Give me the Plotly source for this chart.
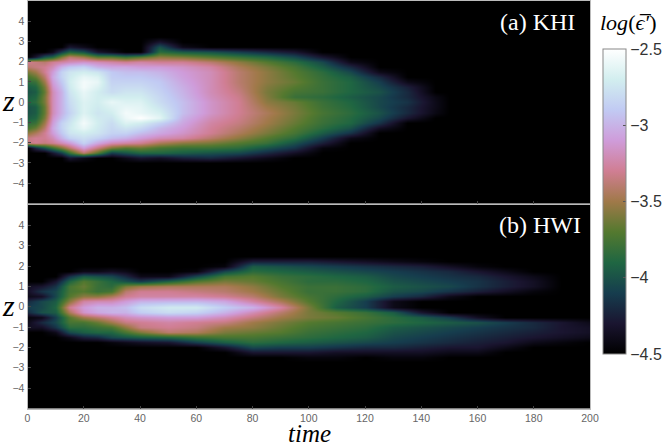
import plotly.graph_objects as go
import numpy as np

B = -4.5  # floor of the colour range, black

# cubehelix, as on the colour bar
colors = ["#000000", "#1a1530", "#163d4e", "#1f6642", "#54792f", "#a07949",
          "#d07e93", "#cf9cda", "#c1caf3", "#d2eeef", "#ffffff"]
bar_ticks = [-4.5, -4, -3.5, -3, -2.5]
bar_labels = ["\u22124.5", "\u22124", "\u22123.5", "\u22123", "\u22122.5"]
z_ticks = [-4, -3, -2, -1, 0, 1, 2, 3, 4]
time_ticks = [0, 20, 40, 60, 80, 100, 120, 140, 160, 180, 200]

# (a) KHI, one profile per time, listed from top z to bottom z
khi_z = [3.25, 3, 2.75, 2.5, 2.25, 2, 1.75, 1.5, 1.25, 1, 0.75, 0.5, 0.25, 0,
         -0.25, -0.5, -0.75, -1, -1.25, -1.5, -1.75, -2, -2.25, -2.5, -2.75, -3, -3.25]
khi_time = [0, 3, 6, 9, 12, 15, 20, 25, 30, 35, 40, 47, 55, 65, 75, 85, 95, 105, 115, 125, 135, 145, 150, 200]
khi_profiles = [
    [B, B, B, B, B, -3.3, -3.4, -3.6, -3.75, -3.85, -3.95, -4.0, -3.95, -3.9, -4.0, -4.0, -3.95, -3.85, -3.75, -3.55, -3.35, -3.35, B, B, B, B, B],
    [B, B, B, B, -4.3, -3.35, -3.35, -3.5, -3.65, -3.8, -3.9, -3.95, -3.9, -3.85, -3.95, -3.95, -3.9, -3.8, -3.65, -3.45, -3.3, -3.3, -4.2, B, B, B, B],
    [B, B, B, B, -4.0, -3.4, -3.3, -3.3, -3.4, -3.5, -3.6, -3.65, -3.6, -3.6, -3.65, -3.65, -3.6, -3.5, -3.4, -3.3, -3.3, -3.35, -4.0, -4.5, B, B, B],
    [B, B, B, -4.4, -3.9, -3.3, -3.2, -3.1, -3.05, -3.1, -3.15, -3.2, -3.2, -3.2, -3.2, -3.2, -3.15, -3.1, -3.05, -3.1, -3.2, -3.3, -3.8, -4.3, B, B, B],
    [B, B, B, -4.1, -3.6, -3.25, -3.0, -2.85, -2.85, -2.9, -2.95, -3.0, -3.0, -3.0, -3.0, -3.0, -2.95, -2.85, -2.85, -2.9, -3.0, -3.2, -3.6, -4.1, B, B, B],
    [B, B, -4.3, -3.9, -3.4, -3.2, -2.9, -2.75, -2.72, -2.7, -2.72, -2.75, -2.78, -2.8, -2.82, -2.85, -2.8, -2.75, -2.72, -2.75, -2.85, -3.1, -3.4, -3.8, -4.3, B, B],
    [B, B, -4.4, -4.0, -3.5, -3.15, -2.85, -2.7, -2.6, -2.55, -2.55, -2.6, -2.62, -2.65, -2.65, -2.65, -2.6, -2.55, -2.6, -2.7, -2.78, -2.85, -3.1, -3.4, -4.4, B, B],
    [B, B, B, -4.3, -3.7, -3.2, -3.0, -2.75, -2.65, -2.6, -2.65, -2.7, -2.7, -2.7, -2.72, -2.75, -2.72, -2.7, -2.72, -2.75, -2.85, -3.05, -3.35, -3.7, B, B, B],
    [B, B, B, -4.4, -3.7, -3.25, -3.05, -2.9, -2.88, -2.85, -2.82, -2.8, -2.7, -2.6, -2.65, -2.7, -2.75, -2.8, -2.82, -2.85, -2.95, -3.2, -3.6, -4.1, B, B, B],
    [B, B, B, B, -3.8, -3.3, -3.05, -2.95, -2.9, -2.85, -2.8, -2.75, -2.7, -2.65, -2.6, -2.55, -2.58, -2.65, -2.75, -2.85, -3.0, -3.25, -3.7, -4.0, -4.4, B, B],
    [B, B, B, B, -3.7, -3.25, -3.1, -2.95, -2.9, -2.85, -2.8, -2.75, -2.7, -2.65, -2.62, -2.6, -2.5, -2.7, -2.82, -2.95, -3.1, -3.3, -3.65, -3.9, -4.3, B, B],
    [B, -4.3, -4.0, -3.85, -3.55, -3.3, -3.1, -3.0, -2.95, -2.9, -2.88, -2.85, -2.82, -2.8, -2.75, -2.68, -2.62, -2.85, -2.98, -3.05, -3.2, -3.45, -3.75, -3.9, -4.35, B, B],
    [B, B, -4.4, -3.95, -3.6, -3.3, -3.15, -3.1, -3.08, -3.05, -3.02, -3.0, -2.98, -2.95, -2.95, -2.95, -3.0, -3.05, -3.1, -3.15, -3.25, -3.55, -3.8, -3.95, -4.25, B, B],
    [B, B, B, -4.0, -3.7, -3.4, -3.25, -3.2, -3.2, -3.2, -3.2, -3.2, -3.18, -3.15, -3.15, -3.15, -3.2, -3.25, -3.28, -3.3, -3.4, -3.6, -3.8, -4.0, -4.2, B, B],
    [B, B, B, -4.1, -3.8, -3.55, -3.45, -3.4, -3.4, -3.4, -3.38, -3.35, -3.32, -3.3, -3.3, -3.3, -3.32, -3.35, -3.4, -3.45, -3.55, -3.7, -3.85, -4.05, -4.3, B, B],
    [B, B, B, -4.2, -3.9, -3.7, -3.6, -3.55, -3.55, -3.55, -3.58, -3.6, -3.58, -3.55, -3.5, -3.45, -3.48, -3.5, -3.55, -3.6, -3.7, -3.8, -4.0, -4.2, -4.4, B, B],
    [B, B, B, -4.3, -4.05, -3.85, -3.75, -3.7, -3.68, -3.65, -3.7, -3.75, -3.8, -3.65, -3.62, -3.6, -3.62, -3.65, -3.7, -3.75, -3.85, -4.0, -4.15, -4.35, B, B, B],
    [B, B, B, B, -4.3, -4.05, -3.95, -3.85, -3.82, -3.8, -3.8, -3.8, -3.85, -3.8, -3.78, -3.75, -3.78, -3.8, -3.85, -3.95, -4.1, -4.25, -4.45, B, B, B, B],
    [B, B, B, B, B, -4.4, -4.2, -4.05, -3.95, -3.9, -3.9, -3.9, -3.95, -3.9, -3.88, -3.85, -3.88, -3.9, -4.0, -4.15, -4.4, B, B, B, B, B, B],
    [B, B, B, B, B, B, B, -4.4, -4.2, -4.1, -4.05, -4.0, -4.05, -4.05, -4.05, -4.0, -4.05, -4.15, -4.35, B, B, B, B, B, B, B, B],
    [B, B, B, B, B, B, B, B, B, -4.4, -4.25, -4.2, -4.2, -4.15, -4.2, -4.2, -4.3, B, B, B, B, B, B, B, B, B, B],
    [B, B, B, B, B, B, B, B, B, B, B, B, -4.42, -4.4, -4.4, -4.42, B, B, B, B, B, B, B, B, B, B, B],
    [B] * 27,
    [B] * 27,
]

# (b) HWI, same layout
hwi_z = [2.75, 2.5, 2.25, 2, 1.75, 1.5, 1.25, 1, 0.75, 0.5, 0.25, 0,
         -0.25, -0.5, -0.75, -1, -1.25, -1.5, -1.75, -2, -2.25, -2.5, -2.75]
hwi_time = [0, 5, 10, 15, 20, 25, 30, 35, 40, 50, 60, 70, 80, 90, 100, 110, 120, 130, 140, 150, 160, 170, 180, 190, 200]
hwi_profiles = [
    [B, B, B, B, B, B, B, -4.35, -4.35, -4.4, -4.2, -4.1, -4.2, -4.45, -4.4, -4.35, B, B, B, B, B, B, B],
    [B, B, B, B, B, B, B, -4.3, -4.15, -4.35, -4.05, -4.05, -4.0, -4.4, -4.2, -4.35, B, B, B, B, B, B, B],
    [B, B, B, B, B, B, -4.3, -4.15, -4.05, -4.05, -3.95, -3.9, -3.95, -4.1, -4.05, -4.15, -4.4, B, B, B, B, B, B],
    [B, B, B, B, B, -4.15, -3.9, -3.75, -3.75, -3.7, -3.55, -3.3, -3.45, -3.7, -3.75, -3.85, -4.05, -4.4, B, B, B, B, B],
    [B, B, B, B, -4.4, -3.95, -3.7, -3.65, -3.7, -3.55, -3.25, -3.1, -3.15, -3.5, -3.75, -3.85, -3.95, -4.25, B, B, B, B, B],
    [B, B, B, B, -4.4, -4.0, -3.8, -3.8, -3.8, -3.55, -3.2, -3.0, -3.05, -3.4, -3.65, -3.8, -3.9, -4.2, B, B, B, B, B],
    [B, B, B, B, -4.35, -4.05, -3.9, -3.85, -3.75, -3.45, -3.2, -3.0, -3.0, -3.3, -3.5, -3.75, -3.9, -4.05, -4.45, B, B, B, B],
    [B, B, B, B, -4.4, -4.2, -4.0, -3.6, -3.4, -3.3, -3.1, -2.95, -3.0, -3.2, -3.35, -3.55, -3.75, -4.0, -4.4, B, B, B, B],
    [B, B, B, B, B, -4.4, -4.1, -3.5, -3.3, -3.25, -3.0, -2.8, -2.88, -3.15, -3.3, -3.35, -3.6, -3.95, -4.35, B, B, B, B],
    [B, B, B, B, B, -4.4, -3.9, -3.45, -3.3, -3.25, -2.98, -2.72, -2.8, -3.1, -3.25, -3.3, -3.4, -3.9, -4.3, B, B, B, B],
    [B, B, B, B, -4.45, -4.05, -3.7, -3.45, -3.35, -3.25, -2.98, -2.72, -2.85, -3.1, -3.3, -3.35, -3.45, -3.8, -4.1, B, B, B, B],
    [B, B, B, -4.45, -4.05, -3.75, -3.6, -3.45, -3.4, -3.3, -3.05, -2.88, -3.0, -3.2, -3.35, -3.5, -3.6, -3.75, -3.95, -4.3, B, B, B],
    [B, B, -4.25, -3.95, -3.85, -3.7, -3.65, -3.55, -3.5, -3.4, -3.25, -3.0, -3.2, -3.35, -3.5, -3.55, -3.65, -3.75, -3.85, -4.05, -4.3, -4.5, B],
    [B, -4.5, -4.25, -4.0, -3.9, -3.8, -3.75, -3.7, -3.65, -3.6, -3.45, -3.25, -3.4, -3.5, -3.6, -3.65, -3.7, -3.8, -3.9, -4.1, -4.3, -4.5, B],
    [B, -4.5, -4.25, -4.05, -3.95, -3.85, -3.85, -3.8, -3.8, -3.75, -3.7, -3.6, -3.6, -3.6, -3.7, -3.75, -3.8, -3.85, -3.95, -4.1, -4.3, -4.45, B],
    [B, B, -4.3, -4.1, -4.0, -3.9, -3.85, -3.8, -3.8, -3.85, -3.9, -3.95, -3.7, -3.65, -3.75, -3.8, -3.85, -3.9, -4.0, -4.15, -4.35, -4.45, B],
    [B, B, -4.35, -4.15, -4.05, -3.95, -3.9, -3.85, -3.85, -3.95, -4.1, -4.1, -3.8, -3.75, -3.8, -3.85, -3.9, -3.95, -4.05, -4.2, -4.35, -4.5, B],
    [B, B, -4.4, -4.2, -4.1, -4.05, -4.0, -3.95, -4.0, -4.1, -4.4, -4.4, -3.95, -3.85, -3.85, -3.95, -4.0, -4.05, -4.1, -4.2, -4.35, -4.45, B],
    [B, B, -4.45, -4.25, -4.15, -4.1, -4.05, -4.0, -4.05, -4.2, -4.5, B, -4.3, -3.95, -3.9, -4.0, -4.05, -4.1, -4.15, -4.25, -4.35, -4.45, B],
    [B, B, B, -4.35, -4.2, -4.15, -4.1, -4.05, -4.15, -4.4, B, B, B, -4.1, -3.95, -4.05, -4.1, -4.15, -4.2, -4.3, -4.4, -4.5, B],
    [B, B, B, -4.45, -4.3, -4.2, -4.15, -4.15, -4.25, B, B, B, B, -4.35, -4.0, -4.1, -4.15, -4.2, -4.25, -4.3, -4.4, -4.5, B],
    [B, B, B, B, -4.4, -4.3, -4.25, -4.25, -4.35, B, B, B, B, B, -4.1, -4.15, -4.2, -4.25, -4.3, -4.4, -4.5, B, B],
    [B, B, B, B, B, -4.4, -4.35, -4.35, -4.45, B, B, B, B, B, -4.2, -4.2, -4.25, -4.3, -4.4, B, B, B, B],
    [B, B, B, B, B, B, -4.5, -4.5, B, B, B, B, B, B, -4.3, -4.3, -4.3, -4.35, -4.45, B, B, B, B],
    [B, B, B, B, B, B, B, B, B, B, B, B, B, B, -4.4, -4.35, -4.35, -4.4, -4.5, B, B, B, B],
]

W, H = 664, 443


def heat_grid(profiles):
    # profiles are per time, top z first; plotly wants rows of ascending z
    return np.array(profiles).T[::-1]


fig = go.Figure()
fig.add_trace(go.Heatmap(x=khi_time, y=khi_z[::-1], z=heat_grid(khi_profiles),
                         coloraxis="coloraxis", zsmooth="best", xaxis="x", yaxis="y",
                         hoverinfo="skip"))
fig.add_trace(go.Heatmap(x=hwi_time, y=hwi_z[::-1], z=heat_grid(hwi_profiles),
                         coloraxis="coloraxis", zsmooth="best", xaxis="x2", yaxis="y2",
                         hoverinfo="skip"))

tick_font = dict(family="Liberation Sans, Arial, sans-serif", size=10.5, color="#666666")
axis_common = dict(showgrid=False, zeroline=False, showline=True, mirror=True,
                   linecolor="#bbbbbb", linewidth=1, ticks="inside", ticklen=3,
                   tickcolor="#444444", tickfont=tick_font)

fig.update_layout(
    width=W,
    height=H,
    margin=dict(l=0, r=0, t=0, b=0, autoexpand=False),
    paper_bgcolor="white",
    plot_bgcolor="black",
    showlegend=False,
    xaxis=dict(domain=[27.5 / W, 590 / W], range=[0, 200], anchor="y", tickvals=time_ticks,
               showticklabels=False, **axis_common),
    yaxis=dict(domain=[1 - 203.5 / H, 1 - 0.8 / H], range=[-5, 5], anchor="x", tickvals=z_ticks,
               **axis_common),
    xaxis2=dict(domain=[27.5 / W, 590 / W], range=[0, 200], anchor="y2", tickvals=time_ticks,
                **axis_common),
    yaxis2=dict(domain=[1 - 408.5 / H, 1 - 205 / H], range=[-5, 5], anchor="x2", tickvals=z_ticks,
                **axis_common),
    coloraxis=dict(
        cmin=-4.5,
        cmax=-2.5,
        colorscale=[[i / 10, c] for i, c in enumerate(colors)],
        colorbar=dict(
            x=603 / W, xanchor="left", xpad=0,
            y=1 - 354 / H, yanchor="bottom", ypad=0,
            len=305 / H, lenmode="fraction",
            thickness=23, thicknessmode="pixels",
            outlinecolor="#888888", outlinewidth=1,
            tickmode="array", tickvals=bar_ticks, ticktext=bar_labels,
            ticks="inside", ticklen=3, tickcolor="#555555",
            tickfont=dict(family="Liberation Sans, Arial, sans-serif", size=16, color="#333333"),
        ),
    ),
)


def label(text, px, py, size, color="black", anchor="center"):
    fig.add_annotation(text=text, xref="paper", yref="paper", x=px / W, y=1 - py / H,
                       xanchor=anchor, yanchor="middle", showarrow=False,
                       font=dict(family="Liberation Serif, serif", size=size, color=color))


label("(a) KHI", 577, 22, 24, color="white", anchor="right")
label("(b) HWI", 583, 225, 24, color="white", anchor="right")
label("<i>z</i>", 8, 101, 30)
label("<i>z</i>", 8, 305, 30)
label("<i>time</i>", 309, 433, 25)
label("<i>log</i>(<i>\u03f5\u0305\u2032</i>)", 628, 22, 22)

# the page's default body margin would shift the figure by 8 px
fig.write_html("out.html", post_script="document.body.style.margin='0';",
               config=dict(displayModeBar=False))
